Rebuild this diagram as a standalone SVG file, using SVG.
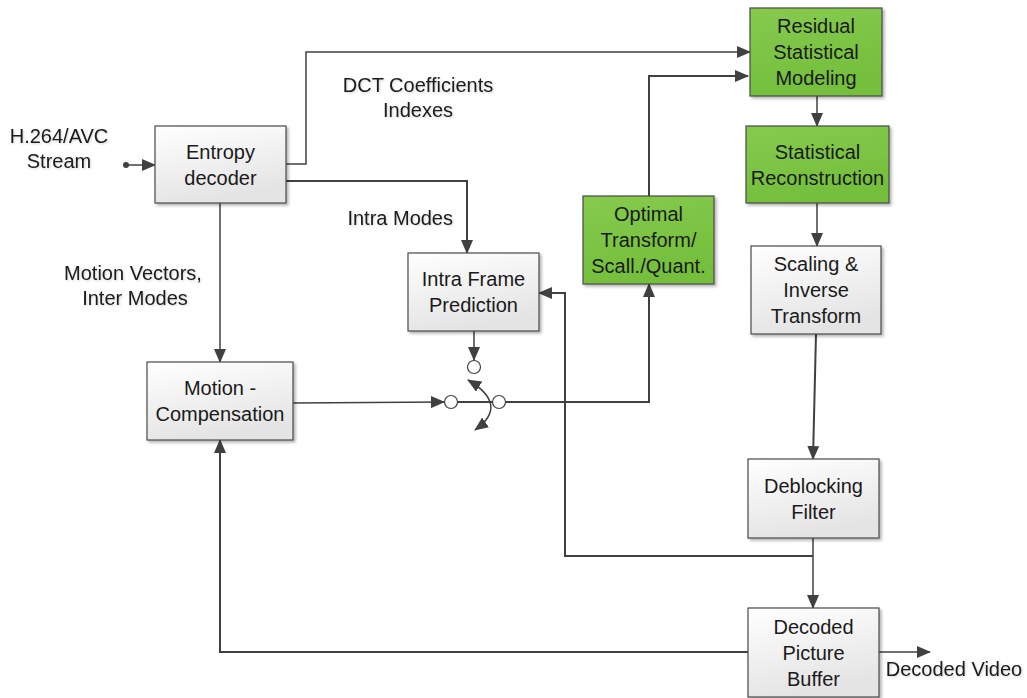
<svg xmlns="http://www.w3.org/2000/svg" width="1027" height="698" viewBox="0 0 1027 698">
<style>
  text { font-family: "Liberation Sans", Arial, sans-serif; font-size: 20px; fill: #1a1a1a; text-anchor: middle; }
  .lbl { filter: url(#tshadow); }
  .box { fill: url(#gray); stroke: #4a4a4a; stroke-width: 1.2; filter: url(#shadow); }
  .gbox { fill: url(#green); stroke: #4a4a4a; stroke-width: 1.2; filter: url(#shadow); }
  .ln { fill: none; stroke: #404040; stroke-width: 1.5; }
  .thick { stroke-width: 2; }
  .arr { marker-end: url(#ah); }
  .circ { fill: #fff; stroke: #404040; stroke-width: 1.2; }
</style>
<defs>
  <linearGradient id="gray" x1="0" y1="0" x2="0.3" y2="1">
    <stop offset="0" stop-color="#ffffff"/>
    <stop offset="1" stop-color="#e4e4e4"/>
  </linearGradient>
  <linearGradient id="green" x1="0" y1="0" x2="0.3" y2="1">
    <stop offset="0" stop-color="#86ca4e"/>
    <stop offset="1" stop-color="#74bf3c"/>
  </linearGradient>
  <filter id="shadow" x="-10%" y="-10%" width="125%" height="130%">
    <feDropShadow dx="2" dy="2" stdDeviation="1.5" flood-color="#000" flood-opacity="0.3"/>
  </filter>
  <filter id="tshadow" x="-5%" y="-20%" width="115%" height="150%">
    <feDropShadow dx="1" dy="1" stdDeviation="1" flood-color="#000" flood-opacity="0.18"/>
  </filter>
  <marker id="ah" markerUnits="userSpaceOnUse" markerWidth="14" markerHeight="12" refX="13" refY="6" orient="auto-start-reverse">
    <path d="M0,0 L14,6 L0,12 Z" fill="#404040"/>
  </marker>
  <marker id="dot" markerUnits="userSpaceOnUse" markerWidth="8" markerHeight="8" refX="4" refY="4">
    <circle cx="4" cy="4" r="3" fill="#404040"/>
  </marker>
</defs>
<rect width="1027" height="698" fill="#ffffff"/>

<g id="connectors">
  <path class="ln arr" d="M126,165 L155,165" marker-start="url(#dot)"/>
  <path class="ln arr" d="M286,164 L306,164 L306,52 L750,52"/>
  <path class="ln arr thick" d="M286,181 L467,181 L467,253"/>
  <path class="ln arr" d="M220,203 L220,362"/>
  <path class="ln arr thick" d="M649,196 L649,76 L748,76"/>
  <path class="ln arr" d="M817,96 L817,126"/>
  <path class="ln arr" d="M817,203 L817,246"/>
  <path class="ln arr thick" d="M816,334 L813,459"/>
  <path class="ln arr" d="M813,538 L813,608"/>
  <path class="ln arr thick" d="M813,556 L565,556 L565,293 L539,293"/>
  <path class="ln arr thick" d="M748,652 L220,652 L220,440"/>
  <path class="ln arr" d="M879,652 L930,652" stroke="#808080"/>
  <path class="ln arr" d="M474,331 L474,360"/>
  <path class="ln arr" d="M293,403 L444,402"/>
  <path class="ln thick" d="M457,402 L493,402"/>
  <path class="ln arr thick" d="M505,402 L649,402 L649,284"/>
  <path class="ln" d="M468,380 Q510,405 475,430" marker-start="url(#ah)" marker-end="url(#ah)"/>
  <circle class="circ" cx="474" cy="367" r="6.5"/>
  <circle class="circ" cx="451" cy="402" r="6.5"/>
  <circle class="circ" cx="499" cy="402" r="6.5"/>
</g>

<g id="entropy">
  <rect class="box" x="155" y="126" width="131" height="77"/>
  <text x="220.5" y="158.5">Entropy</text>
  <text x="220.5" y="184.5">decoder</text>
</g>
<g id="residual">
  <rect class="gbox" x="750" y="8" width="132" height="88"/>
  <text x="816" y="33">Residual</text>
  <text x="816" y="59">Statistical</text>
  <text x="816" y="85">Modeling</text>
</g>
<g id="statrecon">
  <rect class="gbox" x="746" y="126" width="143" height="77"/>
  <text x="817.5" y="158.5">Statistical</text>
  <text x="817.5" y="184.5">Reconstruction</text>
</g>
<g id="optimal">
  <rect class="gbox" x="583" y="196" width="131" height="88"/>
  <text x="648.5" y="221">Optimal</text>
  <text x="648.5" y="247">Transform/</text>
  <text x="648.5" y="273">Scall./Quant.</text>
</g>
<g id="scaling">
  <rect class="box" x="751" y="246" width="130" height="88"/>
  <text x="816" y="271">Scaling &amp;</text>
  <text x="816" y="297">Inverse</text>
  <text x="816" y="323">Transform</text>
</g>
<g id="intraframe">
  <rect class="box" x="408" y="253" width="131" height="78"/>
  <text x="473.5" y="286">Intra Frame</text>
  <text x="473.5" y="312">Prediction</text>
</g>
<g id="motioncomp">
  <rect class="box" x="147" y="362" width="146" height="78"/>
  <text x="220" y="395">Motion -</text>
  <text x="220" y="421">Compensation</text>
</g>
<g id="deblocking">
  <rect class="box" x="748" y="459" width="131" height="79"/>
  <text x="813.5" y="492.5">Deblocking</text>
  <text x="813.5" y="518.5">Filter</text>
</g>
<g id="dpb">
  <rect class="box" x="748" y="608" width="131" height="89"/>
  <text x="813.5" y="633.5">Decoded</text>
  <text x="813.5" y="659.5">Picture</text>
  <text x="813.5" y="685.5">Buffer</text>
</g>

<g id="labels">
  <text class="lbl" x="59" y="143">H.264/AVC</text>
  <text class="lbl" x="59" y="168">Stream</text>
  <text class="lbl" x="418" y="92">DCT Coefficients</text>
  <text class="lbl" x="418" y="117">Indexes</text>
  <text class="lbl" x="453" y="225" style="text-anchor:end">Intra Modes</text>
  <text class="lbl" x="133" y="280">Motion Vectors,</text>
  <text class="lbl" x="135" y="305">Inter Modes</text>
  <text class="lbl" x="954" y="676">Decoded Video</text>
</g>
</svg>
